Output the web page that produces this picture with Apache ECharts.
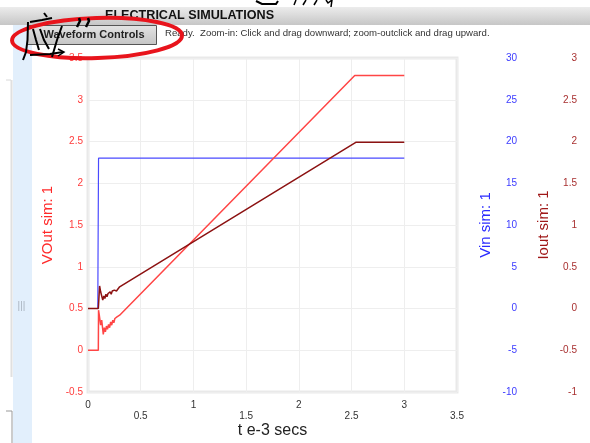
<!DOCTYPE html>
<html>
<head>
<meta charset="utf-8">
<script src="https://cdn.jsdelivr.net/npm/echarts@6/dist/echarts.min.js"></script>
<style>
html,body{margin:0;padding:0;background:#fff;}
#c{width:590px;height:443px;}
</style>
</head>
<body>
<div id="c"></div>
<script>
// ---- data ----
const xTicksMin = 0, xTicksMax = 3.5;
const vinT  = [0, 0.093, 0.095, 0.1, 3.0];
const vinV  = [0, 0, 6, 18, 18];
const voutT = [0, 0.098, 0.1, 0.105, 0.12, 0.13, 0.145, 0.155, 0.165, 0.175, 0.185, 0.195, 0.205, 0.215, 0.225, 0.235, 0.245, 0.255, 0.265, 0.275, 0.285, 0.3, 2.53, 3.0];
const voutV = [0, 0, 0.48, 0.44, 0.3, 0.36, 0.19, 0.27, 0.22, 0.29, 0.25, 0.31, 0.27, 0.34, 0.30, 0.36, 0.33, 0.38, 0.36, 0.40, 0.39, 0.42, 3.29, 3.29];
const ioutT = [0, 0.098, 0.11, 0.12, 0.14, 0.15, 0.16, 0.17, 0.18, 0.19, 0.2, 0.21, 0.22, 0.23, 0.24, 0.25, 0.27, 0.3, 2.54, 3.0];
const ioutV = [0, 0, 0.27, 0.2, 0.1, 0.15, 0.12, 0.17, 0.14, 0.18, 0.16, 0.2, 0.17, 0.21, 0.19, 0.22, 0.21, 0.26, 1.99, 1.99];

const pairs = (t, v) => t.map((x, i) => [x, v[i]]);
const FF = "'Liberation Sans', Arial, sans-serif";

const chart = echarts.init(document.getElementById('c'), null, {renderer: 'canvas'});
chart.setOption({
  animation: false,
  backgroundColor: '#fff',
  grid: {left: 88, right: 133, top: 58, bottom: 51, show: true, borderColor: '#e9e9e9', borderWidth: 3, backgroundColor: '#fff', containLabel: false, outerBoundsMode: 'none'},
  xAxis: {
    type: 'value', min: xTicksMin, max: xTicksMax, interval: 0.5,
    name: 't e-3 secs', nameLocation: 'middle', nameGap: 31, nameMoveOverlap: false,
    nameTextStyle: {color: '#222', fontSize: 16, fontFamily: FF},
    axisLine: {show: false}, axisTick: {show: false},
    splitLine: {show: true, lineStyle: {color: '#eeeeee', width: 1}},
    axisLabel: {color: '#333', fontSize: 10, fontFamily: FF, margin: 8, lineHeight: 11,
      formatter: v => (Math.abs(v - Math.round(v)) < 1e-9) ? String(v) : '\n' + v}
  },
  yAxis: [
    {type: 'value', min: -0.5, max: 3.5, interval: 0.5, position: 'left',
     name: 'VOut sim: 1', nameLocation: 'middle', nameGap: 33, nameMoveOverlap: false,
     nameTextStyle: {color: '#ff2a2a', fontSize: 15, fontFamily: FF},
     axisLine: {show: false}, axisTick: {show: false},
     splitLine: {show: true, lineStyle: {color: '#eeeeee', width: 1}},
     axisLabel: {color: '#ff3b3b', fontSize: 10, fontFamily: FF, margin: 5}},
    {type: 'value', min: -10, max: 30, interval: 5, position: 'right',
     name: 'Vin sim: 1', nameLocation: 'middle', nameGap: 21, nameMoveOverlap: false,
     nameTextStyle: {color: '#2b2bff', fontSize: 15, fontFamily: FF},
     axisLine: {show: false}, axisTick: {show: false}, splitLine: {show: false},
     axisLabel: {color: '#3b3bff', fontSize: 10, fontFamily: FF, margin: 60, align: 'right'}},
    {type: 'value', min: -1, max: 3, interval: 0.5, position: 'right',
     name: 'Iout sim: 1', nameLocation: 'middle', nameGap: 79, nameMoveOverlap: false,
     nameTextStyle: {color: '#a01818', fontSize: 15, fontFamily: FF},
     axisLine: {show: false}, axisTick: {show: false}, splitLine: {show: false},
     axisLabel: {color: '#a83030', fontSize: 10, fontFamily: FF, margin: 120, align: 'right'}}
  ],
  series: [
    {name: 'Vin', type: 'line', yAxisIndex: 1, data: pairs(vinT, vinV), showSymbol: false,
     lineStyle: {color: '#4a4aff', width: 1.2}, z: 2},
    {name: 'VOut', type: 'line', yAxisIndex: 0, data: pairs(voutT, voutV), showSymbol: false,
     lineStyle: {color: '#ff4545', width: 1.5}, z: 3},
    {name: 'Iout', type: 'line', yAxisIndex: 2, data: pairs(ioutT, ioutV), showSymbol: false,
     lineStyle: {color: '#8c1212', width: 1.5}, z: 4}
  ],
  graphic: [
    // header bar
    {type: 'rect', shape: {x: 0, y: 7, width: 590, height: 18}, z: 10,
     style: {fill: new echarts.graphic.LinearGradient(0, 0, 0, 1, [{offset: 0, color: '#ececec'}, {offset: 1, color: '#c6c6c6'}])}},
    {type: 'text', x: 105, y: 16, z: 11,
     style: {text: 'ELECTRICAL SIMULATIONS', fill: '#111', font: "bold 12.6px 'Liberation Sans', Arial", textVerticalAlign: 'middle'}},
    // left panel pieces
    {type: 'rect', shape: {x: 13, y: 25, width: 19, height: 418}, z: 10, style: {fill: '#e2effc'}},
    {type: 'line', shape: {x1: 11.5, y1: 80, x2: 11.5, y2: 377}, z: 10, style: {stroke: '#e0e0e0', lineWidth: 2}},
    {type: 'line', shape: {x1: 6, y1: 80, x2: 11, y2: 80}, z: 10, style: {stroke: '#d8d8d8', lineWidth: 1}},
    {type: 'line', shape: {x1: 6, y1: 411, x2: 12, y2: 411}, z: 10, style: {stroke: '#999', lineWidth: 1}},
    {type: 'line', shape: {x1: 12, y1: 411, x2: 12, y2: 443}, z: 10, style: {stroke: '#999', lineWidth: 1}},
    {type: 'text', x: 21.5, y: 306, z: 11,
     style: {text: '|||', fill: '#a9b3bf', font: "10px 'Liberation Sans', Arial", textAlign: 'center', textVerticalAlign: 'middle'}},
    // button
    {type: 'rect', shape: {x: 27.5, y: 25.5, width: 129, height: 19}, z: 10,
     style: {fill: new echarts.graphic.LinearGradient(0, 0, 0, 1, [{offset: 0, color: '#e4e4e4'}, {offset: 1, color: '#c4c4c4'}]), stroke: '#555', lineWidth: 1}},
    {type: 'text', x: 94, y: 35, z: 11,
     style: {text: 'Waveform Controls', fill: '#222', font: "bold 11px 'Liberation Sans', Arial", textAlign: 'center', textVerticalAlign: 'middle'}},
    {type: 'text', x: 165, y: 33, z: 11,
     style: {text: 'Ready.  Zoom-in: Click and drag downward; zoom-outclick and drag upward.', fill: '#333', font: "9.6px 'Liberation Sans', Arial", textVerticalAlign: 'middle'}},
    // red annotation ellipse
    {type: 'ellipse', shape: {cx: 97, cy: 38, rx: 85, ry: 20}, z: 20, rotation: 0.03, originX: 97, originY: 38,
     style: {fill: null, stroke: '#e8141c', lineWidth: 4}},
    // handwriting marks
    {type: 'polyline', z: 21, shape: {points: [[28, 22], [27.5, 40], [26, 52], [23, 60]]}, style: {stroke: '#000', lineWidth: 2, fill: null}},
    {type: 'polyline', z: 21, shape: {points: [[30, 22], [42, 20], [52, 18]]}, style: {stroke: '#000', lineWidth: 2, fill: null}},
    {type: 'polyline', z: 21, shape: {points: [[44, 13], [47, 17]]}, style: {stroke: '#000', lineWidth: 2, fill: null}},
    {type: 'polyline', z: 21, shape: {points: [[33, 29], [36, 40], [39, 50]]}, style: {stroke: '#000', lineWidth: 2, fill: null}},
    {type: 'polyline', z: 21, shape: {points: [[40, 29], [44, 40], [49, 49]]}, style: {stroke: '#000', lineWidth: 2, fill: null}},
    {type: 'polyline', z: 21, shape: {points: [[62, 26], [57, 40], [52, 57]]}, style: {stroke: '#000', lineWidth: 2, fill: null}},
    {type: 'polyline', z: 21, shape: {points: [[30, 55], [50, 54], [63, 52]]}, style: {stroke: '#000', lineWidth: 2, fill: null}},
    {type: 'polyline', z: 21, shape: {points: [[58, 49], [64, 52], [58, 56]]}, style: {stroke: '#000', lineWidth: 1.5, fill: null}},
    {type: 'polyline', z: 21, shape: {points: [[79, 18], [80, 21], [77, 27]]}, style: {stroke: '#000', lineWidth: 2.5, fill: null}},
    {type: 'polyline', z: 21, shape: {points: [[88, 18], [89, 21], [86, 27]]}, style: {stroke: '#000', lineWidth: 2.5, fill: null}},
    // cut-off handwriting at very top
    {type: 'polyline', z: 21, shape: {points: [[256, 1], [262, 4], [276, 4], [278, 1]]}, style: {stroke: '#000', lineWidth: 2, fill: null}},
    {type: 'polyline', z: 21, shape: {points: [[296, 0], [294, 5]]}, style: {stroke: '#000', lineWidth: 1.5, fill: null}},
    {type: 'polyline', z: 21, shape: {points: [[306, 0], [303, 5]]}, style: {stroke: '#000', lineWidth: 1.5, fill: null}},
    {type: 'polyline', z: 21, shape: {points: [[317, 0], [314, 5]]}, style: {stroke: '#000', lineWidth: 1.5, fill: null}},
    {type: 'polyline', z: 21, shape: {points: [[326, 0], [328, 3], [332, 0], [331, 7]]}, style: {stroke: '#000', lineWidth: 1.5, fill: null}}
  ]
});
</script>
</body>
</html>
